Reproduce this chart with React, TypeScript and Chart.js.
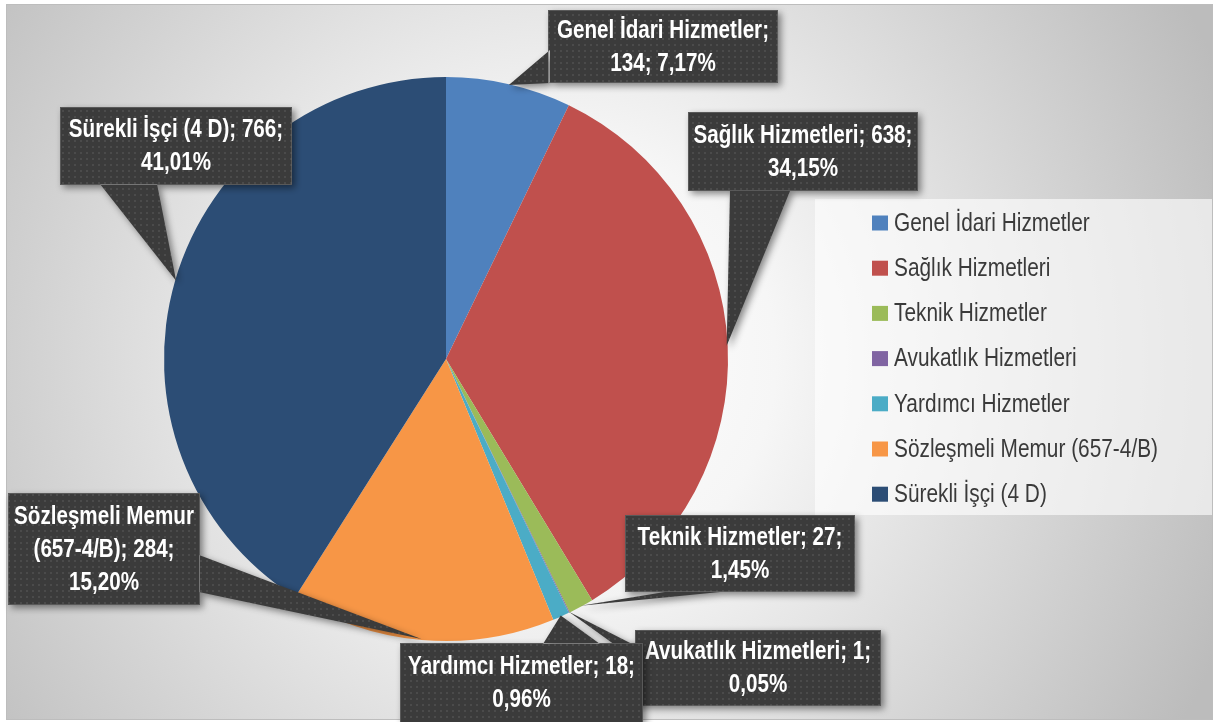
import React, { useEffect, useRef } from 'react';
import { Chart, registerables } from 'chart.js';

Chart.register(...registerables);

// ---------- data ----------
const categories = [
  'Genel İdari Hizmetler',
  'Sağlık Hizmetleri',
  'Teknik Hizmetler',
  'Avukatlık Hizmetleri',
  'Yardımcı Hizmetler',
  'Sözleşmeli Memur (657-4/B)',
  'Sürekli İşçi (4 D)',
];
const values = [134, 638, 27, 1, 18, 284, 766];
const sliceColors = ['#4F81BD', '#C0504D', '#9BBB59', '#8064A2', '#4BACC6', '#F79646', '#2C4D75'];

// ---------- layout (positions/styles only) ----------
const FONT = "'Liberation Sans','Arial',sans-serif";
const W = 1217;
const H = 722;
type Box = { x: number; y: number; w: number; h: number; base: number[][] };
const calloutLayout: Box[] = [
  { x: 548, y: 10, w: 230, h: 73, base: [[550, 50], [550, 83]] },
  { x: 688, y: 112, w: 230, h: 79, base: [[730, 191], [790, 191]] },
  { x: 625, y: 515, w: 230, h: 77, base: [[665, 592], [720, 592]] },
  { x: 635, y: 630, w: 246, h: 76, base: [[636, 646], [636, 660]] },
  { x: 400, y: 643, w: 243, h: 80, base: [[543, 644], [600, 644]] },
  { x: 8, y: 493, w: 192, h: 112, base: [[199, 555], [199, 592]] },
  { x: 60, y: 107, w: 232, h: 78, base: [[100, 184], [157, 184]] },
];
const drawOrder = [0, 1, 2, 3, 4, 5, 6];
// reference widths used to condense the text (narrow typeface look)
const BOLD_REF = { text: 'Genel İdari Hizmetler;', width: 212 };
const REG_REF = { text: 'Sözleşmeli Memur (657-4/B)', width: 264 };

function fmtPct(v: number, total: number) {
  return (v / total * 100).toFixed(2).replace('.', ',') + '%';
}

function wrapText(ctx: CanvasRenderingContext2D, text: string, maxW: number) {
  const words = text.split(' ');
  const lines: string[] = [];
  let cur = '';
  for (const w of words) {
    const t = cur ? cur + ' ' + w : w;
    if (cur && ctx.measureText(t).width > maxW) {
      lines.push(cur);
      cur = w;
    } else cur = t;
  }
  if (cur) lines.push(cur);
  return lines;
}

function makePattern(ctx: CanvasRenderingContext2D) {
  const c = document.createElement('canvas');
  c.width = 6;
  c.height = 6;
  const p = c.getContext('2d')!;
  p.fillStyle = '#3b3b3b';
  p.fillRect(0, 0, 6, 6);
  p.fillStyle = '#4b4b4b';
  p.fillRect(2, 2, 2, 2);
  return ctx.createPattern(c, 'repeat')!;
}

function drawCondensed(ctx: CanvasRenderingContext2D, s: string, x: number, y: number, sx: number) {
  ctx.save();
  ctx.translate(x, y);
  ctx.scale(sx, 1);
  ctx.fillText(s, 0, 0);
  ctx.restore();
}

const bgPlugin = {
  id: 'bgFrame',
  beforeDraw(chart: any) {
    const ctx = chart.ctx as CanvasRenderingContext2D;
    ctx.save();
    ctx.fillStyle = '#ffffff';
    ctx.fillRect(0, 0, W, H);
    const g = ctx.createRadialGradient(560, 360, 0, 560, 360, 720);
    g.addColorStop(0, '#ffffff');
    g.addColorStop(0.3, '#f6f6f6');
    g.addColorStop(1, '#bcbcbc');
    ctx.fillStyle = g;
    ctx.fillRect(6, 4, 1207, 716);
    ctx.strokeStyle = '#bdbdbd';
    ctx.lineWidth = 1;
    ctx.strokeRect(6.5, 4.5, 1206, 715);

    // legend box
    ctx.fillStyle = 'rgba(255,255,255,0.62)';
    ctx.fillRect(815, 199, 397, 316);
    const labels = chart.data.labels as string[];
    const cols = chart.data.datasets[0].backgroundColor as string[];
    ctx.font = `25px ${FONT}`;
    const sx = REG_REF.width / ctx.measureText(REG_REF.text).width;
    ctx.textBaseline = 'middle';
    ctx.textAlign = 'left';
    labels.forEach((l, i) => {
      const cy = 223 + i * 45.2;
      ctx.fillStyle = cols[i];
      ctx.fillRect(872, cy - 7.5, 16, 15);
      ctx.fillStyle = '#3a3a3a';
      drawCondensed(ctx, l, 894, cy + 1, sx);
    });
    ctx.restore();
  },
};

const calloutPlugin = {
  id: 'callouts',
  afterDatasetsDraw(chart: any) {
    const ctx = chart.ctx as CanvasRenderingContext2D;
    const meta = chart.getDatasetMeta(0);
    const data = chart.data.datasets[0].data as number[];
    const labels = chart.data.labels as string[];
    const total = data.reduce((a, b) => a + b, 0);
    const pattern = makePattern(ctx);
    ctx.save();
    ctx.font = `bold 25px ${FONT}`;
    const sx = BOLD_REF.width / ctx.measureText(BOLD_REF.text).width;
    for (const i of drawOrder) {
      const arc = meta.data[i];
      const { x, y, startAngle, endAngle, outerRadius } = arc.getProps(
        ['x', 'y', 'startAngle', 'endAngle', 'outerRadius'], true);
      const mid = (startAngle + endAngle) / 2;
      const tx = x + Math.cos(mid) * (outerRadius - 1);
      const ty = y + Math.sin(mid) * (outerRadius - 1);
      const b = calloutLayout[i];
      let [p0, p1] = b.base;
      const cross = (tx - p0[0]) * (p1[1] - p0[1]) - (ty - p0[1]) * (p1[0] - p0[0]);
      if (cross > 0) [p0, p1] = [p1, p0];
      ctx.beginPath();
      ctx.moveTo(p0[0], p0[1]);
      ctx.lineTo(tx, ty);
      ctx.lineTo(p1[0], p1[1]);
      ctx.closePath();
      ctx.moveTo(b.x, b.y);
      ctx.lineTo(b.x + b.w, b.y);
      ctx.lineTo(b.x + b.w, b.y + b.h);
      ctx.lineTo(b.x, b.y + b.h);
      ctx.closePath();
      ctx.shadowColor = 'rgba(0,0,0,0.45)';
      ctx.shadowBlur = 7;
      ctx.shadowOffsetX = 3;
      ctx.shadowOffsetY = 3;
      ctx.fillStyle = pattern;
      ctx.fill('nonzero');
      ctx.shadowColor = 'transparent';
      ctx.strokeStyle = 'rgba(110,110,110,0.6)';
      ctx.lineWidth = 1;
      ctx.strokeRect(b.x + 0.5, b.y + 0.5, b.w - 1, b.h - 1);

      ctx.fillStyle = '#ffffff';
      ctx.textAlign = 'center';
      ctx.textBaseline = 'middle';
      const text = `${labels[i]}; ${data[i]}; ${fmtPct(data[i], total)}`;
      const lines = wrapText(ctx, text, (b.w - 8) / sx);
      const lh = 33;
      const cy0 = b.y + b.h / 2 - ((lines.length - 1) * lh) / 2;
      lines.forEach((ln, k) => drawCondensed(ctx, ln, b.x + b.w / 2, cy0 + k * lh + 1, sx));
    }
    ctx.restore();
  },
};

export default function App() {
  const ref = useRef<HTMLCanvasElement>(null);
  useEffect(() => {
    document.body.style.margin = '0';
    const chart = new Chart(ref.current!, {
      type: 'pie',
      data: {
        labels: categories,
        datasets: [{ data: values, backgroundColor: sliceColors, borderWidth: 0 }],
      },
      options: {
        responsive: false,
        animation: false,
        layout: { padding: { left: 164, right: 489, top: 77, bottom: 81 } },
        plugins: { legend: { display: false }, tooltip: { enabled: false } },
      },
      plugins: [bgPlugin, calloutPlugin],
    });
    return () => chart.destroy();
  }, []);
  return <canvas ref={ref} width={W} height={H} style={{ display: 'block' }} />;
}
